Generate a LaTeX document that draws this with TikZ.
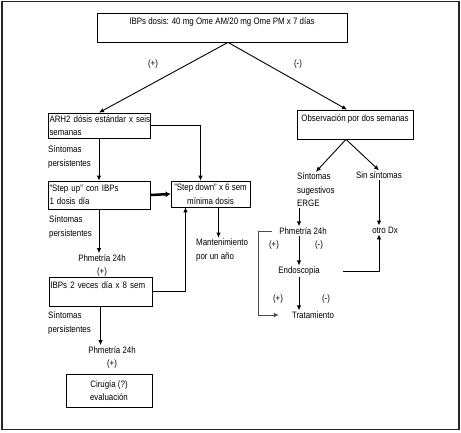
\documentclass[tikz,border=0pt]{standalone}
\usepackage{fontspec}
\setmainfont{Liberation Sans}[FakeStretch=0.85]
\usepackage{tikz}
\usetikzlibrary{arrows.meta, positioning}

\begin{document}
\begin{tikzpicture}[
    x=1pt, y=-1pt,
    box/.style={draw, rectangle, line width=0.75pt, inner sep=1.5pt, font=\fontsize{9.3}{13.5}\selectfont},
    txt/.style={inner sep=1pt, font=\fontsize{9.3}{13.5}\selectfont},
    arrow/.style={-{Latex[length=5pt, width=4.5pt]}, line width=0.9pt}
]
\useasboundingbox (0,0) rectangle (461,432);
\draw[line width=1.2pt, black!85] (2,1.5) rectangle (459,429.5);

% Nodes
\node[box, minimum width=250pt, minimum height=29pt, align=center] (top) at (222,27.5) {IBPs dosis: 40 mg Ome AM/20 mg Ome PM x 7 días\\ \mbox{}};

\node[box, minimum width=102pt, minimum height=25pt, text width=99pt, align=left] (arh2) at (99,125.5) {\mbox{ARH2 dósis estándar x seis}\\semanas};
\node[box, minimum width=116pt, minimum height=29pt, align=center] (obs) at (355,124.5) {Observación por dos semanas\\ \mbox{}};

\node[txt, anchor=west, align=left] (sint1) at (47,157) {Síntomas\\persistentes};
\node[box, minimum width=102pt, minimum height=28pt, text width=99pt, align=left] (stepup) at (99,195) {"Step up" con IBPs\\1 dosis día};
\node[box, minimum width=79pt, minimum height=26pt, align=center] (stepdown) at (210.5,194) {"Step down" x 6 sem\\mínima dosis};
\node[txt, anchor=west, align=left] (sint2) at (48,227) {Síntomas\\persistentes};
\node[txt, anchor=west, align=left] (mant) at (195,250) {Mantenimiento\\por un año};
\node[txt, align=center] (phm1) at (102,265.5) {Phmetría 24h\\(+)};
\node[box, minimum width=103pt, minimum height=29pt, text width=100pt, align=left] (ibps2) at (100.5,291.5) {IBPs 2 veces día x 8 sem\\ \mbox{}};
\node[txt, anchor=west, align=left] (sint3) at (47,323) {Síntomas\\persistentes};
\node[txt, align=center] (phm2) at (112,357.5) {Phmetría 24h\\(+)};
\node[box, minimum width=86pt, minimum height=33pt, align=center] (cirugia) at (109,390.5) {Cirugía (?)\\evaluación};

\node[txt, anchor=west, align=left] (erge) at (296,190) {Síntomas\\sugestivos\\ERGE};
\node[txt] (sin) at (379,175) {Sin síntomas};
\node[txt] (otro) at (385,230) {otro Dx};
\node[txt] (phm3) at (303,231) {Phmetría 24h};
\node[txt] (endo) at (299,271) {Endoscopia};
\node[txt] (trat) at (313,315) {Tratamiento};

\node[txt] (mas1) at (153,64) {(+)};
\node[txt] (menos1) at (298,64) {(-)};
\node[txt] (mas2) at (274,245) {(+)};
\node[txt] (menos2) at (319,245) {(-)};
\node[txt] (mas3) at (278,299) {(+)};
\node[txt] (menos3) at (326,299) {(-)};

% Connections
\draw[arrow] ([xshift=6pt]top.south) -- (arh2.north);
\draw[arrow] ([xshift=6pt]top.south) -- ([xshift=-8pt]obs.north);

\draw[arrow] (arh2.east) -| ([xshift=-10pt]stepdown.north);
\draw[arrow] (arh2.south) -- (stepup.north);
\draw[arrow, line width=2.5pt, -{Latex[length=5pt, width=6pt]}] (stepup.east) -- (stepdown.west);
\draw[arrow] ([xshift=8pt]stepdown.south) -- ([xshift=8pt]stepdown.south |- mant.north);
\draw[arrow] (stepup.south) -- (stepup.south |- phm1.north);
\draw[arrow] (ibps2.east) -| ([xshift=-25pt]stepdown.south);
\draw[arrow] (ibps2.south) -- (ibps2.south |- phm2.north);

\draw[arrow] ([xshift=-9pt]obs.south) -- (erge.north);
\draw[arrow] ([xshift=-9pt]obs.south) -- (sin.north);
\draw[arrow] (sin.south) -- (sin.south |- otro.north);
\draw[arrow] (erge.south -| endo) -- (phm3.north -| endo);
\draw[arrow] (phm3.south -| endo) -- (endo.north);
\draw[arrow] (endo.south) -- (endo.south |- trat.north);
\draw[arrow] ([xshift=22pt]endo.east) -| ([xshift=-6pt]otro.south);
\draw[arrow, black!70] ([xshift=-6pt]phm3.west) -- ++(-14,0) |- ([xshift=-12pt]trat.west);

\end{tikzpicture}
\end{document}
